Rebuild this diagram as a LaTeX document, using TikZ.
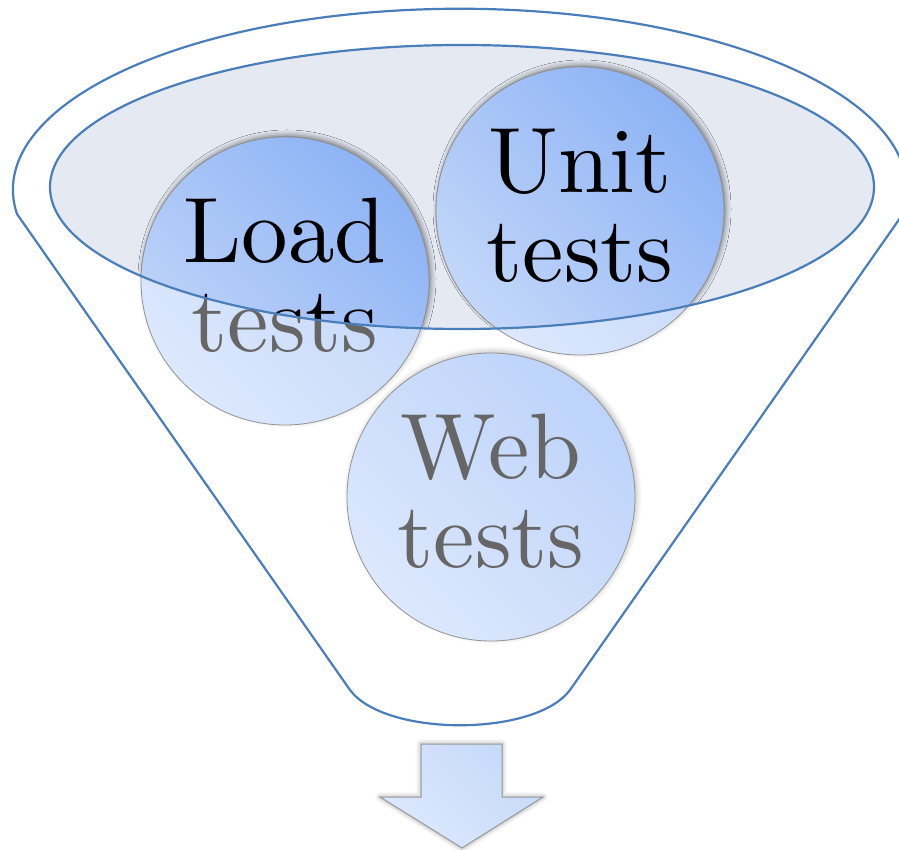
\documentclass[tikz,border=0pt]{standalone}
\usepackage{tikz}
\usetikzlibrary{shadows.blur}

\definecolor{funnelblue}{HTML}{4A7EBB}
\definecolor{rimfill}{HTML}{E4E9F2}
\definecolor{paleblue}{HTML}{DCE8FC}
\definecolor{softblue}{HTML}{BDD3FA}
\definecolor{midblue}{HTML}{C3D7F9}
\definecolor{deepblue}{HTML}{8DB3F5}
\definecolor{textgray}{HTML}{666666}

\font\bubblefont="[lmroman10-regular.otf]" at 93pt

\begin{document}
\begin{tikzpicture}[x=1pt,y=1pt,
    funnel/.style={draw=funnelblue,line width=2.2pt},
    bubble/.style={circle,draw=gray!85,line width=0.8pt,minimum size=288pt,inner sep=0pt,
      align=center,text depth=12pt,font=\fontsize{93}{89}\selectfont\bubblefont,
      blur shadow={shadow xshift=2pt,shadow yshift=2pt,shadow blur radius=5pt,shadow opacity=25}},
    outside/.style={bubble,bottom color=paleblue,top color=softblue,shading angle=-45,text=textgray},
    inside/.style={bubble,bottom color=midblue,top color=deepblue,shading angle=-45,text=black},
    arrowbox/.style={draw=gray!80,line width=1pt,bottom color=paleblue,top color=softblue!70!paleblue,
      shading angle=-45,blur shadow={shadow xshift=0pt,shadow yshift=0pt,shadow blur radius=5pt,shadow opacity=40}}]

    \useasboundingbox (0,0) rectangle (899,849);

    % funnel body
    \draw[funnel] (17,635) arc[start angle=187.7,end angle=-7.7,x radius=447,y radius=181]
        -- (570,159) .. controls (535,112) and (385,112) .. (350,159) -- cycle;
    \fill[rimfill] (462,662) ellipse[x radius=412,y radius=142];

    \node[outside] (load) at (285,568) {Load\\tests};
    \node[outside] (unit) at (580,638) {Unit\\tests};
    \node[outside] (web)  at (491,352) {Web\\tests};

    % the parts inside the rim
    \begin{scope}
      \clip (462,662) ellipse[x radius=412,y radius=142];
      \node[inside] (loadin) at (285,568) {Load\\tests};
      \node[inside] (unitin) at (580,638) {Unit\\tests};
    \end{scope}
    \draw[funnel] (462,662) ellipse[x radius=412,y radius=142];

    \draw[arrowbox] (421,105) -- (502,105) -- (502,52) -- (543,52) -- (462,1) -- (380,52) -- (421,52) -- cycle;
  \end{tikzpicture}
\end{document}
